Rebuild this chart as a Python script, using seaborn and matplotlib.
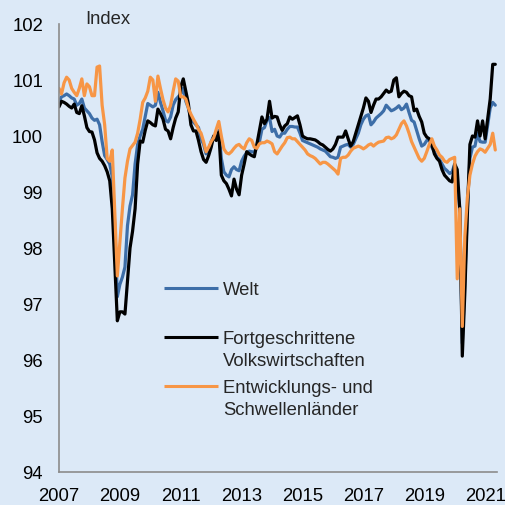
import matplotlib
matplotlib.use("Agg")
import matplotlib.pyplot as plt
import pandas as pd
import seaborn as sns

# Monatswerte Jan 2007 - Mai 2021
welt = [
    100.62, 100.70, 100.72, 100.75, 100.72, 100.68, 100.66, 100.55, 100.58, 100.66, 100.50, 100.45,
    100.40, 100.32, 100.28, 100.30, 100.20, 99.90, 99.65, 99.58, 99.50, 99.27, 98.40, 97.13,
    97.35, 97.48, 97.66, 98.40, 98.75, 98.95, 99.50, 99.85, 100.00, 100.12, 100.35, 100.58,
    100.55, 100.52, 100.55, 100.78, 100.60, 100.45, 100.28, 100.25, 100.34, 100.55, 100.65, 100.70,
    100.75, 100.85, 100.62, 100.50, 100.32, 100.25, 100.20, 100.15, 99.95, 99.85, 99.68, 99.75,
    99.90, 100.00, 99.95, 100.10, 99.60, 99.36, 99.30, 99.27, 99.40, 99.45, 99.40, 99.38,
    99.55, 99.64, 99.70, 99.73, 99.72, 99.71, 99.80, 99.89, 100.12, 100.15, 100.28, 100.33,
    100.08, 100.12, 100.00, 99.98, 100.05, 100.05, 100.12, 100.17, 100.17, 100.16, 100.16, 100.05,
    99.92, 99.90, 99.88, 99.86, 99.84, 99.82, 99.80, 99.77, 99.75, 99.73, 99.68, 99.63,
    99.62, 99.60, 99.62, 99.80, 99.82, 99.84, 99.85, 99.80, 99.85, 99.95, 100.05, 100.20,
    100.30, 100.36, 100.38, 100.20, 100.25, 100.32, 100.36, 100.40, 100.45, 100.55, 100.50, 100.45,
    100.47, 100.50, 100.54, 100.47, 100.50, 100.57, 100.42, 100.28, 100.25, 100.10, 99.95, 99.82,
    99.85, 99.92, 99.93, 99.80, 99.72, 99.62, 99.58, 99.50, 99.42, 99.38, 99.33, 99.36,
    99.50, 99.10, 98.70, 96.30, 97.40, 98.70, 99.60, 99.80, 99.82, 100.05, 99.90, 99.89,
    99.89, 100.20, 100.50, 100.60, 100.55,
]

fortgeschritten = [
    100.52, 100.62, 100.60, 100.57, 100.53, 100.50, 100.57, 100.42, 100.40, 100.54, 100.36, 100.15,
    100.08, 100.07, 99.93, 99.70, 99.60, 99.55, 99.47, 99.36, 99.20, 98.70, 97.70, 96.70,
    96.86, 96.86, 96.82, 97.40, 98.00, 98.30, 98.70, 99.50, 99.91, 99.89, 100.10, 100.27,
    100.24, 100.20, 100.18, 100.48, 100.40, 100.30, 100.12, 100.09, 99.95, 100.15, 100.32, 100.43,
    100.88, 101.02, 100.80, 100.58, 100.20, 100.09, 100.09, 99.92, 99.72, 99.58, 99.53, 99.65,
    99.80, 100.00, 99.92, 100.07, 99.30, 99.20, 99.15, 99.05, 98.93, 99.23, 99.05, 98.95,
    99.30, 99.50, 99.72, 99.68, 99.65, 99.63, 99.85, 100.10, 100.34, 100.22, 100.30, 100.62,
    100.32, 100.35, 100.34, 100.20, 100.10, 100.18, 100.22, 100.34, 100.30, 100.33, 100.36, 100.20,
    100.00, 99.97, 99.95, 99.95, 99.94, 99.93, 99.90, 99.86, 99.84, 99.80, 99.76, 99.73,
    99.77, 99.85, 99.98, 99.98, 99.98, 100.09, 99.95, 99.82, 99.90, 100.05, 100.20, 100.35,
    100.50, 100.68, 100.62, 100.42, 100.55, 100.66, 100.66, 100.70, 100.76, 100.82, 100.78, 100.80,
    101.00, 101.04, 100.70, 100.76, 100.80, 100.78, 100.72, 100.70, 100.45, 100.48, 100.35, 100.25,
    100.05, 99.98, 99.95, 99.85, 99.68, 99.60, 99.55, 99.40, 99.30, 99.25, 99.20, 99.18,
    99.50, 99.40, 98.70, 96.07, 97.20, 98.60, 99.85, 100.00, 99.98, 100.27, 100.00, 100.27,
    99.95, 100.30, 100.66, 101.28, 101.28,
]

entwicklung = [
    100.85, 100.75, 100.95, 101.05, 101.00, 100.85, 100.78, 100.72, 100.85, 101.02, 100.72, 100.93,
    100.88, 100.72, 100.72, 101.23, 101.25, 100.55, 100.20, 99.60, 99.55, 99.75, 98.60, 97.50,
    98.10, 98.70, 99.25, 99.55, 99.77, 99.83, 99.89, 100.05, 100.30, 100.60, 100.68, 100.80,
    101.05, 101.00, 100.62, 101.07, 100.85, 100.65, 100.50, 100.43, 100.55, 100.80, 101.02, 100.98,
    100.70, 100.70, 100.66, 100.50, 100.39, 100.30, 100.22, 100.12, 100.05, 99.90, 99.72, 99.80,
    99.90, 99.97, 100.12, 100.26, 100.00, 99.77, 99.70, 99.68, 99.72, 99.78, 99.83, 99.85,
    99.80, 99.77, 99.88, 99.95, 99.92, 99.80, 99.78, 99.86, 99.88, 99.88, 99.91, 99.89,
    99.86, 99.72, 99.68, 99.75, 99.82, 99.88, 99.97, 99.98, 99.95, 99.95, 99.90, 99.85,
    99.80, 99.75, 99.68, 99.65, 99.63, 99.60, 99.55, 99.50, 99.53, 99.53, 99.50, 99.46,
    99.42, 99.38, 99.32, 99.60, 99.62, 99.62, 99.66, 99.73, 99.78, 99.80, 99.82, 99.80,
    99.77, 99.80, 99.84, 99.86, 99.82, 99.86, 99.89, 99.90, 99.91, 99.97, 99.98, 99.95,
    99.97, 100.02, 100.12, 100.22, 100.27, 100.18, 100.05, 99.90, 99.80, 99.70, 99.60, 99.55,
    99.60, 99.72, 99.85, 99.95, 99.82, 99.75, 99.66, 99.62, 99.55, 99.53, 99.58, 99.60,
    99.62, 97.45, 98.70, 96.60, 98.20, 98.90, 99.30, 99.50, 99.64, 99.72, 99.77, 99.75,
    99.71, 99.78, 99.85, 100.05, 99.75,
]

serien = ["Welt", "Fortgeschrittene\nVolkswirtschaften", "Entwicklungs- und\nSchwellenländer"]
farben = ["#3d6ea8", "#000000", "#f79646"]
jahre = list(range(2007, 2022))
jahr_labels = [str(j) if j % 2 == 1 else "" for j in jahre]
y_ticks = [94, 95, 96, 97, 98, 99, 100, 101, 102]

monate = pd.date_range("2007-01-01", periods=len(welt), freq="MS")
zeit = monate.year + (monate.month - 1) / 12

df = pd.concat([
    pd.DataFrame({"Zeit": zeit, "Index": werte, "Serie": name})
    for name, werte in zip(serien, [welt, fortgeschritten, entwicklung])
])

sns.set_style("white")
plt.rcParams["font.family"] = ["Liberation Sans", "DejaVu Sans"]
fs = 13.3

bg = "#dce9f7"
grau = "#8c8c8c"
W, H = 505, 506
fig = plt.figure(figsize=(W / 100, H / 100), dpi=100, facecolor=bg)
# Achsenrahmen in Pixeln: links 59, rechts 497, oben 25, unten 473
ax = fig.add_axes([59 / W, 1 - 473 / H, (497 - 59) / W, (473 - 25) / H])
ax.set_facecolor(bg)

sns.lineplot(data=df, x="Zeit", y="Index", hue="Serie", hue_order=serien,
             palette=dict(zip(serien, farben)), linewidth=2.3, legend=False, ax=ax)

ax.set_xlim(2007, 2021.39)
ax.set_ylim(94, 102)
ax.set_xticks(jahre)
ax.set_xticklabels(jahr_labels)
ax.set_yticks(y_ticks)
ax.set_yticklabels([str(v) for v in y_ticks])
ax.set_xlabel("")
ax.set_ylabel("")

for s in ["top", "right"]:
    ax.spines[s].set_visible(False)
for s in ["left", "bottom"]:
    ax.spines[s].set_color(grau)
    ax.spines[s].set_linewidth(1.2)
ax.tick_params(axis="both", direction="out", length=4, width=1.2, color=grau,
               labelcolor="black", labelsize=fs)
ax.tick_params(axis="y", pad=7.5)
ax.tick_params(axis="x", pad=7)

def fx(px):
    return (px - 59) / 438

def fy(px):
    return (473 - px) / 448

ax.text(fx(85), fy(24), "Index", transform=ax.transAxes, va="baseline", ha="left", fontsize=fs)

# Legende von Hand, wie im Original (Linie auf Höhe der ersten Textzeile)
for name, farbe, y_px in zip(serien, farben, [289, 338, 387]):
    ax.plot([fx(164), fx(218)], [fy(y_px), fy(y_px)], transform=ax.transAxes,
            color=farbe, lw=2.2, solid_capstyle="butt", clip_on=False)
    for i, zeile in enumerate(name.split("\n")):
        ax.text(fx(223), fy(y_px + 6.4 + 22 * i), zeile, transform=ax.transAxes,
                va="baseline", ha="left", fontsize=fs)

fig.savefig("out.png", dpi=100, facecolor=bg)
